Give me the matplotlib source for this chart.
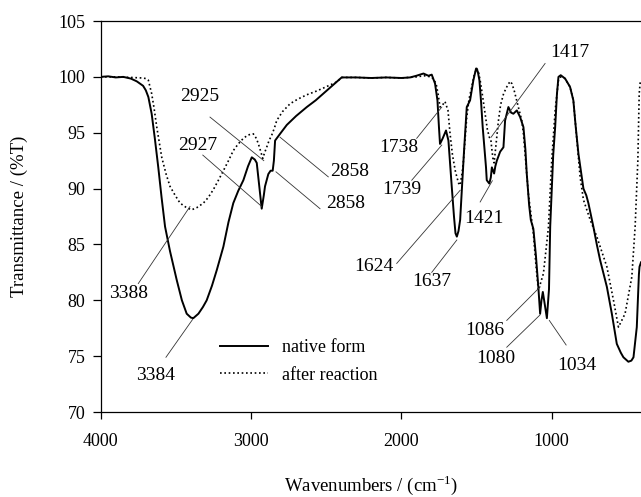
import matplotlib
matplotlib.use("Agg")
import matplotlib.pyplot as plt
import numpy as np

plt.rcParams['font.family'] = ['Liberation Serif', 'DejaVu Serif']
plt.rcParams['mathtext.fontset'] = 'custom'
plt.rcParams['mathtext.rm'] = 'Liberation Serif'

# native form (solid)
native_wn = [4000, 3950, 3900, 3850, 3800, 3760, 3718, 3700, 3683, 3661, 3640, 3617, 3595, 3572,
             3539, 3494, 3460, 3428, 3400, 3384, 3350, 3320, 3295, 3260, 3228, 3184, 3150, 3118,
             3085, 3051, 3020, 2995, 2975, 2962, 2945, 2929, 2915, 2907, 2885, 2870, 2856, 2848,
             2840, 2807, 2762, 2700, 2629, 2570, 2519, 2452, 2397, 2300, 2200, 2100, 2000, 1942,
             1900, 1853, 1820, 1798, 1776, 1760, 1750, 1743, 1725, 1703, 1687, 1675, 1665, 1650,
             1640, 1631, 1620, 1609, 1595, 1583, 1565, 1543, 1521, 1503, 1492, 1481, 1470, 1459,
             1437, 1432, 1415, 1405, 1398, 1390, 1383, 1375, 1365, 1343, 1321, 1310, 1288, 1270,
             1255, 1232, 1210, 1188, 1175, 1166, 1150, 1139, 1122, 1105, 1089, 1077, 1068, 1059,
             1045, 1032, 1018, 1010, 990, 977, 965, 955, 940, 925, 911, 878, 856, 840, 822, 800,
             789, 770, 756, 740, 723, 700, 678, 633, 600, 567, 540, 523, 490, 470, 456, 434, 420,
             416, 406]
native_t = [100.0, 100.05, 99.95, 100.0, 99.85, 99.6, 99.2, 98.8, 98.2, 96.7, 94.5, 91.9, 89.2, 86.6,
            84.4, 81.8, 80.0, 78.8, 78.45, 78.4, 78.8, 79.4, 80.0, 81.3, 82.7, 84.8, 87.0, 88.7,
            89.8, 90.75, 92.0, 92.8, 92.6, 92.3, 90.2, 88.2, 89.4, 90.2, 91.3, 91.6, 91.6, 92.5,
            94.3, 94.9, 95.7, 96.5, 97.3, 97.9, 98.5, 99.3, 99.95, 99.95, 99.9, 99.95, 99.9, 99.95,
            100.1, 100.3, 100.1, 100.2, 99.4, 97.9, 95.5, 94.0, 94.5, 95.2, 94.3, 92.0, 90.2, 87.5,
            86.0, 85.7, 86.2, 87.2, 90.5, 93.4, 97.3, 97.9, 99.7, 100.75, 100.5, 99.7, 97.8, 95.5,
            91.9, 90.75, 90.45, 91.0, 91.9, 91.6, 91.35, 92.0, 92.5, 93.3, 93.7, 96.1, 97.3, 96.8,
            96.7, 97.0, 96.4, 95.5, 93.5, 91.35, 88.5, 87.2, 86.4, 84.0, 81.2, 78.8, 80.0, 80.75,
            79.5, 78.4, 81.0, 86.6, 93.0, 95.5, 98.5, 100.0, 100.15, 100.0, 99.85, 99.1, 97.9, 95.5, 93.1, 91.0,
            90.0, 89.4, 88.7, 87.7, 86.6, 85.0, 83.6, 81.2, 78.8, 76.1, 75.3, 74.9, 74.5, 74.6, 74.9, 77.6, 82.3,
            83.0, 83.4]

# after reaction (dotted)
after_wn = [4000, 3900, 3800, 3720, 3700, 3683, 3661, 3645, 3627, 3594, 3565, 3539, 3505, 3472,
            3430, 3395, 3360, 3317, 3285, 3251, 3215, 3184, 3150, 3118, 3085, 3051, 3020, 2985,
            2965, 2951, 2935, 2922, 2910, 2896, 2880, 2862, 2845, 2829, 2790, 2740, 2690, 2629,
            2570, 2519, 2470, 2430, 2397, 2300, 2200, 2100, 2000, 1900, 1850, 1800, 1787, 1769,
            1755, 1743, 1730, 1710, 1690, 1676, 1660, 1640, 1620, 1609, 1595, 1587, 1565, 1550,
            1532, 1515, 1498, 1488, 1476, 1460, 1443, 1428, 1415, 1405, 1398, 1390, 1383, 1370,
            1355, 1340, 1320, 1299, 1277, 1265, 1250, 1222, 1199, 1188, 1155, 1122, 1105, 1089,
            1075, 1055, 1022, 1000, 977, 955, 940, 911, 878, 856, 840, 811, 789, 744, 700, 633,
            589, 556, 512, 467, 445, 427, 418, 410]
after_t = [100.0, 100.0, 99.95, 99.9, 99.85, 99.7, 98.5, 97.2, 95.5, 92.8, 91.3, 90.2, 89.4, 88.7,
           88.3, 88.1, 88.3, 88.7, 89.2, 89.9, 90.8, 91.6, 92.5, 93.4, 94.0, 94.5, 94.8, 94.9,
           94.5, 94.0, 93.3, 92.7, 93.2, 93.7, 94.3, 94.8, 95.4, 96.1, 96.9, 97.6, 98.0, 98.4,
           98.7, 99.0, 99.3, 99.55, 99.95, 99.95, 99.9, 99.95, 99.9, 100.0, 100.1, 100.0, 99.8, 99.4,
           98.4, 97.3, 97.4, 97.8, 97.0, 94.9, 93.0, 91.5, 90.5, 90.3, 91.5, 92.5, 96.4, 98.0,
           99.1, 100.2, 100.75, 100.5, 99.7, 98.3, 96.7, 95.3, 94.6, 94.4, 93.5, 92.6, 92.3, 94.0,
           96.0, 97.5, 98.5, 99.1, 99.6, 99.4, 98.8, 97.3, 96.1, 94.9, 89.5, 86.0, 83.2, 80.9,
           81.5, 82.4, 86.5, 92.5, 97.0, 99.7, 100.0, 99.85, 99.1, 97.9, 95.5, 91.05, 89.0, 87.2, 85.7, 83.0,
           80.0, 77.6, 78.8, 82.1, 86.6, 92.5, 98.5, 99.7]

# peak labels: text, text position (wn, %T), leader start, leader end
label_txt = ['2925', '2927', '2858', '2858', '3388', '3384', '1738', '1739', '1624', '1637',
             '1421', '1417', '1086', '1080', '1034']
label_x = [3339, 3355, 2342, 2370, 3816, 3632, 2020, 1997, 2186, 1798, 1450, 878, 1443, 1370, 833]
label_y = [98.2, 93.9, 91.5, 88.7, 80.6, 73.3, 93.7, 89.9, 83.0, 81.65, 87.3, 102.2, 77.3, 74.8, 74.2]
lead_x0 = [3273, 3321, 2486, 2541, 3750, 3566, 1898, 1931, 2031, 1798, 1476, 1044, 1299, 1299, 904]
lead_y0 = [96.4, 93.0, 91.05, 88.2, 81.5, 74.9, 94.5, 90.75, 83.3, 82.5, 88.8, 101.2, 78.2, 75.8, 76.0]
lead_x1 = [2915, 2929, 2807, 2834, 3406, 3388, 1731, 1731, 1609, 1631, 1395, 1403, 1077, 1077, 1016]
lead_y1 = [92.5, 88.4, 94.6, 91.5, 88.4, 78.3, 97.3, 93.9, 89.85, 85.4, 90.7, 94.6, 81.2, 78.7, 78.2]

series_names = ['native form', 'after reaction']
x_ticks = [4000, 3000, 2000, 1000]
y_ticks = [70, 75, 80, 85, 90, 95, 100, 105]

fig = plt.figure(figsize=(6.41, 4.97), dpi=100)
ax = fig.add_axes([0.1571, 0.1710, 0.8429, 0.7867])

ax.plot(native_wn, native_t, color='black', lw=1.4, ls='-', label=series_names[0])
ax.plot(after_wn, after_t, color='black', lw=1.2, ls=(0, (1, 1.6)), label=series_names[1])

for t, tx, ty, x0, y0, x1, y1 in zip(label_txt, label_x, label_y, lead_x0, lead_y0, lead_x1, lead_y1):
    ax.plot([x0, x1], [y0, y1], color='#333333', lw=0.6)
    ax.text(tx, ty, t, ha='center', va='center', fontsize=14)

ax.set_xlim(4000, 406)
ax.set_ylim(70, 105)
ax.set_xticks(x_ticks)
ax.set_yticks(y_ticks)
ax.tick_params(axis='both', direction='out', labelsize=13, width=0.9)
ax.tick_params(axis='y', length=6, pad=5)
ax.tick_params(axis='x', length=5, pad=10)
ax.spines['right'].set_visible(False)
for s in ['left', 'bottom', 'top']:
    ax.spines[s].set_linewidth(0.9)

ax.set_xlabel('Wavenumbers / (cm$^{\\mathregular{-1}}$)', fontsize=13.5, labelpad=17)
ax.set_ylabel('Transmittance / (%T)', fontsize=13.5, labelpad=22)

ax.legend(loc='upper left', bbox_to_anchor=(0.2208, 0.186), frameon=False, fontsize=13,
          handlelength=2.68, handletextpad=0.77, labelspacing=0.58, borderpad=0, borderaxespad=0)

fig.savefig('out.png', dpi=100)
